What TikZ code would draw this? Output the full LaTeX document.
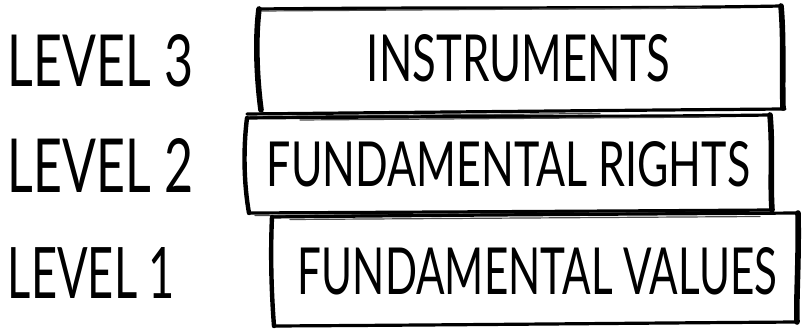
\documentclass[tikz,border=0pt]{standalone}
\usepackage{fontspec}
\setmainfont{Lato}
\usepackage{graphicx}
\newcommand{\fitt}[3]{\resizebox{#1pt}{#2pt}{#3}}
\tikzset{
  lbl/.style={inner sep=0pt, outer sep=0pt, anchor=center},
  thinedge/.style={line width=3.2pt, line cap=round, line join=round},
  thickedge/.style={line width=5.6pt, line cap=round, line join=round},
  faint/.style={line width=1.2pt, line cap=round, black!70},
}
\begin{document}
\begin{tikzpicture}[x=1pt,y=-1pt]
\useasboundingbox (0,0) rectangle (803,329);
% ---- Box 3 (INSTRUMENTS)
\coordinate (a1) at (259,9);
\coordinate (a2) at (781,6);
\coordinate (a3) at (783,108);
\coordinate (a4) at (261,112);
\draw[thinedge] (a1) .. controls (450,7) and (620,9) .. (a2);
\draw[faint] (262,11) -- (700,8);
\draw[thickedge] (a1) .. controls (255,40) and (257,80) .. (261,110);
\draw[thickedge] (a2) .. controls (784,40) and (782,80) .. (a3);
\draw[thinedge] (247,114) .. controls (450,112) and (650,110) .. (785,109);
\draw[faint] (250,116.5) -- (600,113.5);
% ---- Box 2 (FUNDAMENTAL RIGHTS)
\coordinate (b1) at (247,118);
\coordinate (b2) at (770,115);
\coordinate (b3) at (772,210);
\coordinate (b4) at (249,213);
\draw[thinedge] (b1) .. controls (450,116) and (620,117) .. (b2);
\draw[faint] (300,120) -- (720,117);
\draw[thickedge,line width=4.4pt] (b1) .. controls (243,150) and (244,185) .. (b4);
\draw[thickedge] (b2) .. controls (773,150) and (770,180) .. (b3);
\draw[thinedge] (b4) .. controls (450,212) and (620,211) .. (b3);
\draw[faint] (255,215.5) -- (700,212.5);
% ---- Box 1 (FUNDAMENTAL VALUES)
\coordinate (c1) at (272,217);
\coordinate (c2) at (798,213);
\coordinate (c3) at (797,322);
\coordinate (c4) at (274,326);
\draw[thinedge] (c1) .. controls (450,215) and (650,214) .. (c2);
\draw[faint] (290,219.5) -- (760,216.5);
\draw[thickedge,line width=4.4pt] (c1) .. controls (270,260) and (272,300) .. (c4);
\draw[thickedge] (c2) .. controls (799,260) and (796,300) .. (c3);
\draw[thinedge] (c4) .. controls (450,325) and (650,323) .. (c3);
% ---- Box texts
\node[lbl] (t3) at (518.5,58.5) {\fitt{303}{47}{INSTRUMENTS}};
\node[lbl] (t2) at (508.5,164.5) {\fitt{483}{45}{FUNDAMENTAL RIGHTS}};
\node[lbl] (t1) at (537.5,271.5) {\fitt{479}{47}{FUNDAMENTAL VALUES}};
% ---- Level labels
\node[lbl] (l3) at (100.5,61) {\fitt{185}{52}{LEVEL 3}};
\node[lbl] (l2) at (100.5,165) {\fitt{185}{54}{LEVEL 2}};
\node[lbl] (l1) at (91.5,272.5) {\fitt{167}{51}{LEVEL 1}};
\end{tikzpicture}
\end{document}
